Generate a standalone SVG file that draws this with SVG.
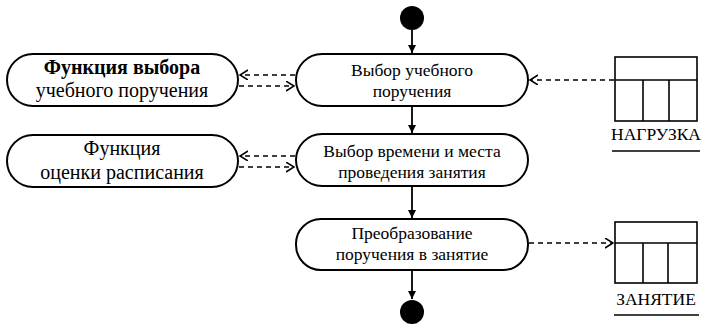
<svg xmlns="http://www.w3.org/2000/svg" width="703" height="325" viewBox="0 0 703 325">
<style>
.node{fill:#fff;stroke:#000;stroke-width:2}
.t{font-family:"Liberation Serif","Times New Roman","DejaVu Serif",serif;font-size:17.5px;text-anchor:middle;fill:#000}
.tl{font-family:"Liberation Serif","Times New Roman","DejaVu Serif",serif;font-size:20px;text-anchor:middle;fill:#000}
.flow{stroke:#000;stroke-width:1.8;fill:none}
.dep{stroke:#000;stroke-width:1.5;fill:none;stroke-dasharray:5,4}
.obj{fill:#fff;stroke:#000;stroke-width:1.6}
</style>
<defs>
<marker id="solid" markerWidth="10" markerHeight="10" refX="8" refY="4" orient="auto" markerUnits="userSpaceOnUse">
<path d="M0,0 L8,4 L0,8 z" fill="#000"/>
</marker>
<marker id="open" markerWidth="12" markerHeight="12" refX="8" refY="5" orient="auto" markerUnits="userSpaceOnUse">
<path d="M0,0 L8,5 L0,10" fill="none" stroke="#000" stroke-width="1.5"/>
</marker>
</defs>
<g id="start"><circle cx="412" cy="18" r="12" fill="#000"/></g>
<g id="n1"><rect class="node" x="296" y="54" width="232" height="52" rx="26"/>
<text class="t" x="412" y="76">Выбор учебного</text><text class="t" x="412" y="97">поручения</text></g>
<g id="n2"><rect class="node" x="296" y="134" width="232" height="52" rx="26"/>
<text class="t" x="412" y="157">Выбор времени и места</text><text class="t" x="412" y="178">проведения занятия</text></g>
<g id="n3"><rect class="node" x="296" y="219" width="232" height="51" rx="25"/>
<text class="t" x="412" y="239">Преобразование</text><text class="t" x="412" y="260">поручения в занятие</text></g>
<g id="end"><circle cx="412" cy="312" r="12" fill="#000"/></g>
<g id="l1"><rect class="node" x="7" y="54" width="231" height="52" rx="26"/>
<text class="tl" x="122" y="74" font-weight="bold">Функция выбора</text><text class="tl" x="122" y="97">учебного поручения</text></g>
<g id="l2"><rect class="node" x="7" y="135" width="231" height="52" rx="26"/>
<text class="tl" x="122" y="155">Функция</text><text class="tl" x="122" y="179">оценки расписания</text></g>
<g id="o1"><rect class="obj" x="615" y="57" width="82" height="64"/>
<path d="M615,80 H697 M643,80 V121 M669,80 V121" stroke="#000" stroke-width="1.6" fill="none"/>
<text class="t" x="656" y="140">НАГРУЗКА</text><path d="M612,151 H700" stroke="#000" stroke-width="1.4"/></g>
<g id="o2"><rect class="obj" x="615" y="222" width="82" height="61"/>
<path d="M615,243 H697 M643,243 V283 M668,243 V283" stroke="#000" stroke-width="1.6" fill="none"/>
<text class="t" x="656" y="305">ЗАНЯТИЕ</text><path d="M614,315 H699" stroke="#000" stroke-width="1.4"/></g>
<g id="connectors">
<path class="flow" d="M412,30 V53" marker-end="url(#solid)"/>
<path class="flow" d="M412,107 V133" marker-end="url(#solid)"/>
<path class="flow" d="M412,187 V218" marker-end="url(#solid)"/>
<path class="flow" d="M412,271 V299" marker-end="url(#solid)"/>
<path class="dep" d="M295,75 H240" marker-end="url(#open)"/>
<path class="dep" d="M239,86 H294" marker-end="url(#open)"/>
<path class="dep" d="M295,156 H240" marker-end="url(#open)"/>
<path class="dep" d="M239,167 H294" marker-end="url(#open)"/>
<path class="dep" d="M614,80 H530" marker-end="url(#open)"/>
<path class="dep" d="M529,243 H613" marker-end="url(#open)"/>
</g>
</svg>
